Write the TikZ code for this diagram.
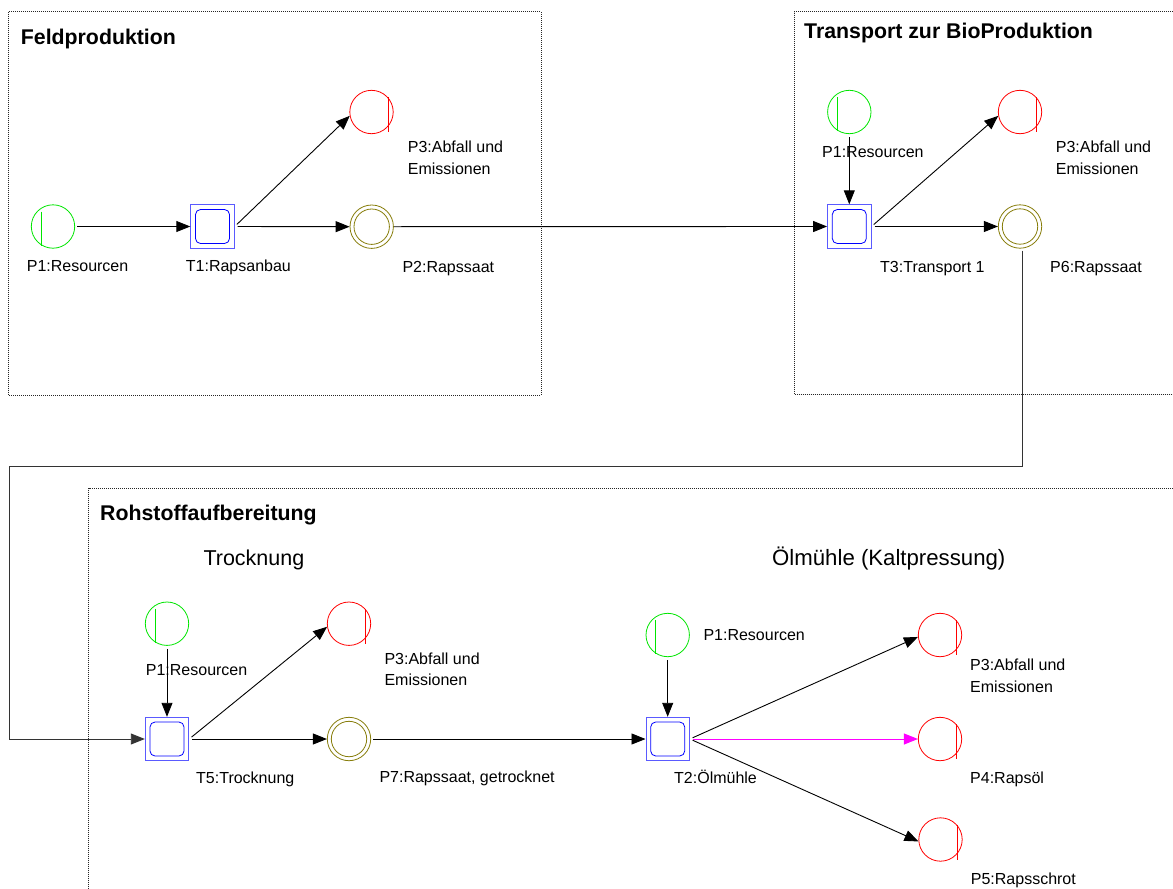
\documentclass[tikz,border=0pt]{standalone}
\usepackage{fontspec}
\setmainfont{Liberation Sans}
\usetikzlibrary{arrows.meta}
\definecolor{pgreen}{RGB}{0,230,0}
\definecolor{pred}{RGB}{255,0,0}
\definecolor{polive}{RGB}{135,125,10}
\definecolor{tblue}{RGB}{90,90,255}
\definecolor{tinner}{RGB}{0,0,255}
\definecolor{pmag}{RGB}{255,0,255}
\begin{document}
\begin{tikzpicture}[x=1pt,y=-1pt,
  place/.style={circle, draw, line width=0.8pt, minimum size=43.4pt, inner sep=0pt},
  src/.style={place, draw=pgreen},
  sink/.style={place, draw=pred},
  prod/.style={place, draw=polive},
  trans/.style={rectangle, draw=tblue, line width=0.8pt, minimum size=43.6pt, inner sep=0pt},
  arr/.style={-{Triangle[length=14pt,width=11pt]}, line width=0.9pt},
  grp/.style={draw=black!85, line width=0.8pt, dash pattern=on 1pt off 1pt},
  lab/.style={anchor=base west, inner sep=0pt, font=\fontsize{16}{19}\selectfont},
  ttl/.style={anchor=base west, inner sep=0pt, font=\fontsize{21.3}{25}\selectfont\bfseries},
  sub/.style={anchor=base west, inner sep=0pt, font=\fontsize{21.5}{25}\selectfont}]
\path[use as bounding box, fill=white] (0,0) rectangle (1173,889);

% group boxes
\draw[grp] (8.5,11.7) rectangle (541,395);
\draw[grp] (1173,11.5) -- (794,11.5) -- (794,394) -- (1173,394);
\draw[grp] (1173,488) -- (88.5,488) -- (88.5,889);

% titles
\node[ttl] (tFeld) at (20.7,44.3) {Feldproduktion};
\node[ttl] (tTrans) at (804,38.5) {Transport zur BioProduktion};
\node[ttl] (tRoh) at (100,520) {Rohstoffaufbereitung};
\node[sub] (tTrock) at (203.3,565) {Trocknung};
\node[sub, font=\fontsize{22.2}{26}\selectfont] (tOel) at (772,565) {Ölmühle (Kaltpressung)};

% Feldproduktion
\node[src] (P1a) at (53,226.5) {};
\node[trans] (T1) at (212.5,226.5) {};
\node[sink] (P3a) at (371.5,112) {};
\node[prod] (P2) at (371.7,226.7) {};
% Transport
\node[src] (P1b) at (849.3,112) {};
\node[trans] (T3) at (849.3,226.5) {};
\node[sink] (P3b) at (1020,112) {};
\node[prod] (P6) at (1020,226.5) {};
% Rohstoffaufbereitung
\node[src] (P1c) at (167,623.7) {};
\node[trans] (T5) at (167,739) {};
\node[sink] (P3c) at (349,623.7) {};
\node[prod] (P7) at (349,739) {};
\node[src] (P1d) at (667.7,635) {};
\node[trans] (T2) at (667.7,739) {};
\node[sink] (P3d) at (940,635) {};
\node[sink] (P4) at (940,739) {};
\node[sink] (P5) at (940.5,839.5) {};

% decorations of places and transitions
\foreach \n in {P1a,P1b,P1c,P1d}
  \draw[pgreen, line width=0.9pt] ([shift={(-12,-15)}]\n.center) -- ++(0,34);
\foreach \n in {P3a,P3b,P3c,P3d,P4,P5}
  \draw[pred, line width=0.9pt] ([shift={(16.5,-15)}]\n.center) -- ++(0,35);
\foreach \n in {P2,P6,P7}
  \draw[polive, line width=0.8pt] (\n.center) circle[radius=17.7pt];
\foreach \n in {T1,T3,T5,T2}
  \draw[tinner, line width=0.8pt, rounded corners=5pt] ([shift={(-17,-17)}]\n.center) rectangle ([shift={(17,17)}]\n.center);

% arcs
\draw[arr, shorten <=2pt] (P1a.east) -- (T1.west);
\draw[arr, shorten <=3pt] (T1.east) -- (P3a.190);
\draw[arr, shorten <=3pt] (T1.east) -- (P2.west);
\draw[arr] (P2.east) -- (T3.west);
\draw[arr, shorten <=3pt] (P1b.south) -- (T3.north);
\draw[arr, shorten <=3pt] (T3.east) -- (P3b.190);
\draw[arr, shorten <=3pt] (T3.east) -- (P6.west);
\coordinate (r1) at (1022,466);
\coordinate (r2) at (9.5,466);
\draw[arr, shorten <=2pt, draw=black!80] ([xshift=2pt]P6.south) -- (r1) -- (r2) |- (T5.west);
\draw[arr, shorten <=3pt] (P1c.south) -- (T5.north);
\draw[arr, shorten <=3pt] (T5.east) -- (P3c.188);
\draw[arr, shorten <=3pt] (T5.east) -- (P7.west);
\draw[arr, shorten <=2pt] (P7.east) -- (T2.west);
\draw[arr, shorten <=3pt] (P1d.south) -- (T2.north);
\draw[arr, shorten <=3pt] (T2.east) -- (P3d.185);
\draw[arr, draw=pmag, fill=pmag, line width=1pt, shorten <=3pt] (T2.east) -- (P4.west);
\draw[arr, shorten <=3pt] (T2.east) -- (P5.185);

% labels
\node[lab] (lP1a) at (26.7,271.7) {P1:Resourcen};
\node[lab] (lT1) at (185.7,271.4) {T1:Rapsanbau};
\node[lab] (lP2) at (402.3,272.4) {P2:Rapssaat};
\node[lab] (lP3a1) at (407.7,152.4) {P3:Abfall und};
\node[lab] (lP3a2) at (407.7,174) {Emissionen};

\node[lab] (lP1b) at (822,157.4) {P1:Resourcen};
\node[lab] (lP3b1) at (1055.7,152.4) {P3:Abfall und};
\node[lab] (lP3b2) at (1055.7,174) {Emissionen};
\node[lab] (lT3) at (880,272.4) {T3:Transport 1};
\node[lab] (lP6) at (1050,272.4) {P6:Rapssaat};

\node[lab] (lP1c) at (145.7,675.7) {P1:Resourcen};
\node[lab] (lT5) at (196,783.7) {T5:Trocknung};
\node[lab] (lP3c1) at (384.3,664) {P3:Abfall und};
\node[lab] (lP3c2) at (384.3,685.5) {Emissionen};
\node[lab] (lP7) at (379.3,782.4) {P7:Rapssaat, getrocknet};
\node[lab] (lP1d) at (703.3,640.7) {P1:Resourcen};
\node[lab] (lT2) at (674,783.7) {T2:Ölmühle};
\node[lab] (lP3d1) at (970,670.7) {P3:Abfall und};
\node[lab] (lP3d2) at (970,692.4) {Emissionen};
\node[lab] (lP4) at (970,783.7) {P4:Rapsöl};
\node[lab] (lP5) at (970.7,884.7) {P5:Rapsschrot};
\end{tikzpicture}
\end{document}
